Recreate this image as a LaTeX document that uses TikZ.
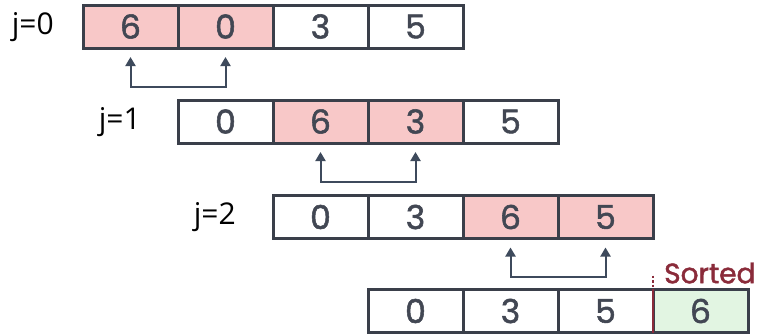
\documentclass[tikz,border=0pt]{standalone}
\usepackage{fontspec}
\setmainfont{Open Sans}
\newfontfamily\numfont[FakeBold=1.6]{Poppins}
\usetikzlibrary{arrows.meta,calc}
\definecolor{cellline}{HTML}{3A3F4A}
\definecolor{numtext}{HTML}{424753}
\definecolor{swapfill}{HTML}{F8C8C8}
\definecolor{donefill}{HTML}{E2F5E2}
\definecolor{arrowline}{HTML}{3E4A5C}
\definecolor{sortedred}{HTML}{8A2B3A}
\tikzset{
  cell/.style={draw=cellline, line width=3pt, minimum width=95pt, minimum height=43pt,
    inner sep=0pt, outer sep=0pt, text=numtext, font=\numfont\fontsize{33}{33}\selectfont},
  swapcell/.style={cell, fill=swapfill},
  donecell/.style={cell, fill=donefill},
  passlabel/.style={anchor=east, inner sep=0pt, font=\fontsize{30}{30}\selectfont},
  swaparrow/.style={draw=arrowline, line width=2pt,
    {Triangle[width=10pt,length=9pt]}-{Triangle[width=10pt,length=9pt]}},
}
\begin{document}
\begin{tikzpicture}[x=1pt,y=-1pt]
\useasboundingbox (0,0) rectangle (759,335);
\fill[white] (0,0) rectangle (759,335);

% pass j=0
\node[swapcell] (a0) at (130.5,26.5) {6};
\node[swapcell] (a1) at (225.5,26.5) {0};
\node[cell]     (a2) at (320.5,26.5) {3};
\node[cell]     (a3) at (415.5,26.5) {5};
\node[passlabel] (ja) at (54,27) {j=0};
\draw[swaparrow] ([yshift=-9pt]a0.south) -- ++(0,30) -| ([yshift=-9pt]a1.south);

% pass j=1
\node[cell]     (b0) at (225.5,121.5) {0};
\node[swapcell] (b1) at (320.5,121.5) {6};
\node[swapcell] (b2) at (415.5,121.5) {3};
\node[cell]     (b3) at (510.5,121.5) {5};
\node[passlabel] (jb) at (141,122) {j=1};
\draw[swaparrow] ([yshift=-9pt]b1.south) -- ++(0,30) -| ([yshift=-9pt]b2.south);

% pass j=2
\node[cell]     (c0) at (320.5,217) {0};
\node[cell]     (c1) at (415.5,217) {3};
\node[swapcell] (c2) at (510.5,217) {6};
\node[swapcell] (c3) at (605.5,217) {5};
\node[passlabel] (jc) at (236,217) {j=2};
\draw[swaparrow] ([yshift=-9pt]c2.south) -- ++(0,29) -| ([yshift=-9pt]c3.south);

% result with sorted tail
\node[cell]     (d0) at (415.5,311) {0};
\node[cell]     (d1) at (510.5,311) {3};
\node[cell]     (d2) at (605.5,311) {5};
\node[donecell] (d3) at (700.5,311) {6};
\coordinate (split) at ($(d2.north east)+(0,-14)$);
\draw[sortedred, line width=2.2pt, dash pattern=on 2.5pt off 2pt] (split) -- (d2.north east);
\draw[sortedred, line width=2.2pt] (d2.north east) -- (d2.south east);
\node[anchor=west, inner sep=0pt, text=sortedred, font=\numfont\fontsize{28}{28}\selectfont]
  (sorted) at (664,273) {Sorted};
\end{tikzpicture}
\end{document}
